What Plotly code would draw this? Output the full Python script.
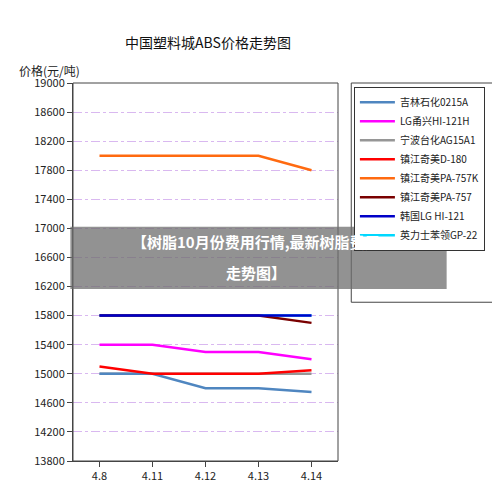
import plotly.graph_objects as go

days = ["4.8", "4.11", "4.12", "4.13", "4.14"]
names = ["吉林石化0215A", "LG甬兴HI-121H", "宁波台化AG15A1", "镇江奇美D-180",
         "镇江奇美PA-757K", "镇江奇美PA-757", "韩国LG HI-121", "英力士苯领GP-22"]
colors = ["#4f86c0", "#ff00ff", "#969696", "#ff0000", "#ff6a10", "#7a0000", "#0000c8", "#00d8ff"]
jilin = [15000, 15000, 14800, 14800, 14750]
lg_yx = [15400, 15400, 15300, 15300, 15200]
ningbo = [15000, 15000, 15000, 15000, 15000]
zj_d180 = [15100, 15000, 15000, 15000, 15050]
zj_757k = [18000, 18000, 18000, 18000, 17800]
zj_757 = [15800, 15800, 15800, 15800, 15700]
kr_lg = [15800, 15800, 15800, 15800, 15800]
ineos = [15800, 15800, 15800, 15800, 15800]
series = [jilin, lg_yx, ningbo, zj_d180, zj_757k, zj_757, kr_lg, ineos]
draw_order = [7, 2, 0, 3, 1, 5, 6, 4]
yticks = list(range(13800, 19001, 400))

fig = go.Figure()
for i in draw_order:
    fig.add_trace(go.Scatter(x=days, y=series[i], name=names[i], mode="lines",
                             line=dict(color=colors[i], width=2.5), legendrank=i + 1))

font = "Noto Sans CJK SC"
fig.update_layout(
    width=500, height=504, margin=dict(l=65, r=170, t=75, b=51, autoexpand=False),
    paper_bgcolor="white", plot_bgcolor="white",
    font=dict(family=font, size=11, color="#222"),
    title=dict(text="中国塑料城ABS价格走势图", x=0.40, y=0.94, xanchor="center",
               font=dict(size=14, color="#111")),
    legend=dict(x=1.06, y=0.99, xanchor="left", yanchor="top", bordercolor="#333",
                borderwidth=1, font=dict(size=10), tracegroupgap=4, itemwidth=35),
    showlegend=True,
)
fig.update_xaxes(type="category", showgrid=False, showline=True, linecolor="#444",
                 ticks="outside", range=[-0.5, 4.5])
fig.update_yaxes(range=[13800, 19000], tickvals=yticks, ticktext=[str(v) for v in yticks],
                 showgrid=True, gridcolor="#d9b8f0", griddash="dashdot",
                 showline=True, linecolor="#444", ticks="outside")
fig.add_annotation(text="价格(元/吨)", xref="paper", yref="paper", x=-0.21, y=1.06,
                   xanchor="left", showarrow=False, font=dict(size=12))
fig.add_shape(type="rect", xref="paper", yref="paper", x0=0, x1=1, y0=0, y1=1,
              line=dict(color="#444", width=1))
fig.add_shape(type="rect", xref="paper", yref="paper", x0=1.05, x1=1.61,
              y0=0.42, y1=1.0, line=dict(color="#444", width=1))
# banner overlay
fig.add_shape(type="rect", xref="paper", yref="paper", x0=-0.01, x1=1.41,
              y0=0.455, y1=0.62, fillcolor="rgba(110,110,110,0.75)", line_width=0)
fig.add_annotation(text="<b>【树脂10月份费用行情,最新树脂费用</b>",
                   xref="paper", yref="paper", x=0.69, y=0.58, xanchor="center",
                   showarrow=False, font=dict(size=15, color="white"))
fig.add_annotation(text="<b>走势图】</b>",
                   xref="paper", yref="paper", x=0.69, y=0.50, xanchor="center",
                   showarrow=False, font=dict(size=15, color="white"))
fig.write_html("out.html")
